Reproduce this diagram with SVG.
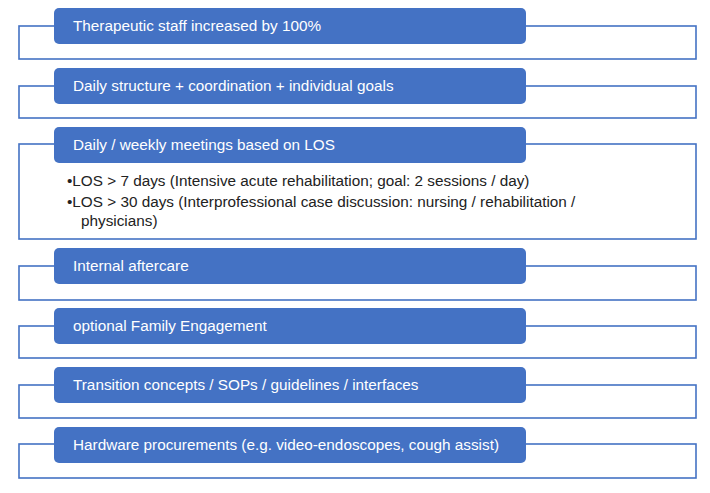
<svg xmlns="http://www.w3.org/2000/svg" width="710" height="493" viewBox="0 0 710 493">
<style>
.frame{fill:#ffffff;stroke:#4472C4;stroke-width:1.6}
.bar{fill:#4472C4}
.t{font-family:"Liberation Sans",Arial,sans-serif;font-size:15.3px;fill:#ffffff}
.b{font-family:"Liberation Sans",Arial,sans-serif;font-size:15.3px;fill:#222222}
</style>
<rect width="710" height="493" fill="#ffffff"/>
<g id="n1">
<rect class="frame" x="19" y="26" width="677" height="33"/>
<rect class="bar" x="54" y="8" width="472" height="36" rx="5"/>
<text class="t" x="73" y="31">Therapeutic staff increased by 100%</text>
</g>
<g id="n2">
<rect class="frame" x="19" y="86" width="677" height="32"/>
<rect class="bar" x="54" y="68" width="472" height="36" rx="5"/>
<text class="t" x="73" y="91">Daily structure + coordination + individual goals</text>
</g>
<g id="n3">
<rect class="frame" x="19" y="144" width="677" height="95"/>
<rect class="bar" x="54" y="127" width="472" height="36" rx="5"/>
<text class="t" x="73" y="150">Daily / weekly meetings based on LOS</text>
<text class="b" x="67" y="186">•LOS &gt; 7 days (Intensive acute rehabilitation; goal: 2 sessions / day)</text>
<text class="b" x="67" y="207">•LOS &gt; 30 days (Interprofessional case discussion: nursing / rehabilitation /</text>
<text class="b" x="81" y="226">physicians)</text>
</g>
<g id="n4">
<rect class="frame" x="19" y="266" width="677" height="34"/>
<rect class="bar" x="54" y="248" width="472" height="36" rx="5"/>
<text class="t" x="73" y="271">Internal aftercare</text>
</g>
<g id="n5">
<rect class="frame" x="19" y="326" width="677" height="32"/>
<rect class="bar" x="54" y="308" width="472" height="36" rx="5"/>
<text class="t" x="73" y="331">optional Family Engagement</text>
</g>
<g id="n6">
<rect class="frame" x="19" y="385" width="677" height="33"/>
<rect class="bar" x="54" y="367" width="472" height="36" rx="5"/>
<text class="t" x="73" y="390">Transition concepts / SOPs / guidelines / interfaces</text>
</g>
<g id="n7">
<rect class="frame" x="19" y="444" width="677" height="34"/>
<rect class="bar" x="54" y="427" width="472" height="36" rx="5"/>
<text class="t" x="73" y="450">Hardware procurements (e.g. video-endoscopes, cough assist)</text>
</g>
</svg>
